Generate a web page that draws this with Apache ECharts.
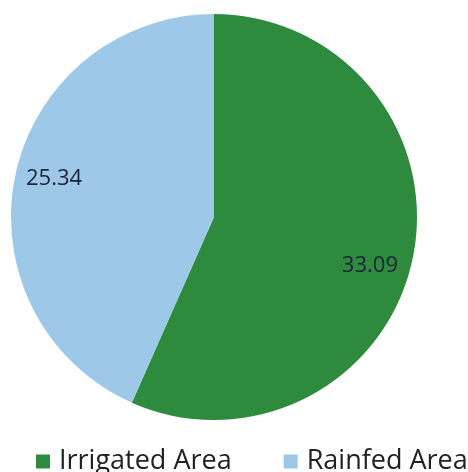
<!DOCTYPE html>
<html><head><meta charset="utf-8">
<script src="https://cdn.jsdelivr.net/npm/echarts@6/dist/echarts.min.js"></script>
<style>html,body{margin:0;padding:0;background:#fff}#c{width:468px;height:472px}</style>
</head><body><div id="c"></div>
<script>
const categories = ['Irrigated Area', 'Rainfed Area'];
const values = [33.09, 25.34];
const colors = ['#2E8B3E', '#9DC8E8'];

const labelNudge = [[-6, 15], [2, -4]];
const data = categories.map((n, i) => ({ name: n, value: values[i], itemStyle: { color: colors[i] } }));
const chart = echarts.init(document.getElementById('c'));
chart.setOption({
  animation: false,
  textStyle: { fontFamily: 'Open Sans' },
  legend: {
    bottom: -8, left: 31, width: 437, icon: 'rect', itemWidth: 14, itemHeight: 14, itemGap: 52,
    textStyle: { fontSize: 27, color: '#222', fontFamily: 'Open Sans', padding: [0, 0, 0, 4] },
    data: categories
  },
  series: [{
    type: 'pie', center: [214, 217], radius: [0, 203], startAngle: 90, clockwise: true,
    label: { show: false }, labelLine: { show: false }, silent: true,
    data: data
  }, {
    type: 'pie', center: [214, 217], radius: [122, 203], startAngle: 90, clockwise: true, silent: true,
    itemStyle: { color: 'rgba(0,0,0,0)' },
    label: { show: true, position: 'inside', fontSize: 22, color: '#1B2438', fontFamily: 'Open Sans',
      formatter: p => p.value.toFixed(2) },
    labelLine: { show: false },
    labelLayout: p => ({ dx: labelNudge[p.dataIndex][0], dy: labelNudge[p.dataIndex][1] }),
    data: categories.map((n, i) => ({ name: n, value: values[i], itemStyle: { color: 'rgba(0,0,0,0)' } })),
    tooltip: { show: false }
  }]
});
</script></body></html>
